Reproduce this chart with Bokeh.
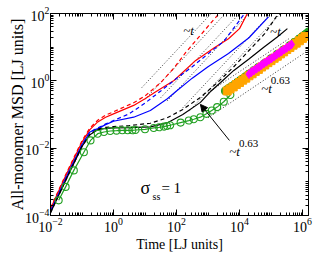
import numpy as np
from bokeh.plotting import figure
from bokeh.models import FixedTicker, LogAxis, Label, Arrow, NormalHead, Range1d
from bokeh.embed import file_html
from bokeh.resources import INLINE

# ---- data (log10 of time, log10 of MSD) ----
red_solid_lt = [-2, -1.5, -1, -0.75, -0.5, -0.25, 0, 0.64, 1.0, 1.33, 1.92, 2.6, 3.2, 3.65, 4.0, 4.25]
red_solid_ly = [-3.8, -2.78, -1.82, -1.45, -1.22, -1.08, -0.98, -0.73, -0.53, -0.33, 0.01, 0.6, 0.98, 1.25, 1.55, 2.0]

red_dash_lt = [-2, -1.5, -1, -0.75, -0.5, -0.25, 0, 0.64, 1.0, 1.5, 1.92, 2.3, 2.7, 3.24, 3.35]
red_dash_ly = [-3.78, -2.75, -1.78, -1.4, -1.17, -1.02, -0.92, -0.65, -0.45, -0.05, 0.38, 0.85, 1.29, 1.88, 2.0]

blue_solid_lt = [-2, -1.5, -1, -0.75, -0.5, -0.25, 0, 0.64, 1.17, 1.71, 2.0, 2.5, 3.0, 3.65, 4.3, 4.92]
blue_solid_ly = [-3.88, -2.86, -1.9, -1.52, -1.42, -1.3, -1.2, -1.08, -0.88, -0.53, -0.3, 0.08, 0.42, 0.81, 1.28, 1.9]

blue_dash_lt = [-2, -1.5, -1, -0.75, -0.5, -0.25, 0, 0.5, 1.0, 1.5, 2.0, 2.5, 3.0, 3.5, 4.14]
blue_dash_ly = [-3.88, -2.86, -1.9, -1.52, -1.4, -1.28, -1.18, -0.98, -0.66, -0.3, 0.07, 0.42, 0.8, 1.17, 1.97]

black_solid_lt = [-2, -1.5, -1, -0.75, -0.5, -0.25, 0, 0.5, 1.17, 1.7, 2.2, 2.76, 3.1, 3.4, 3.82, 4.3, 4.77, 5.2, 5.52]
black_solid_ly = [-3.92, -2.92, -1.95, -1.6, -1.45, -1.41, -1.4, -1.39, -1.37, -1.25, -1.0, -0.64, -0.3, -0.05, 0.31, 0.65, 1.0, 1.3, 1.55]

black_dash_lt = [-2, -1.5, -1, -0.75, -0.5, -0.25, 0, 0.5, 1.17, 1.7, 2.2, 2.76, 3.3, 3.8, 4.3, 4.8, 5.2]
black_dash_ly = [-3.92, -2.92, -1.95, -1.6, -1.43, -1.38, -1.36, -1.33, -1.26, -1.1, -0.85, -0.49, -0.05, 0.4, 0.9, 1.4, 1.95]

green_open_lt = [-1.74, -1.52, -1.26, -0.94, -0.73, -0.5, -0.3, -0.1, 0.1, 0.28, 0.45, 0.6, 0.7, 1.0,
                 1.28, 1.45, 1.6, 1.7, 1.8, 2.13, 2.39, 2.55, 2.76, 2.95, 3.12, 3.29, 3.5, 3.71]
green_open_ly = [-3.55, -3.15, -2.66, -2.12, -1.77, -1.57, -1.52, -1.49, -1.48, -1.47, -1.47, -1.47, -1.46, -1.44,
                 -1.4, -1.38, -1.36, -1.34, -1.32, -1.24, -1.18, -1.14, -1.08, -0.98, -0.88, -0.78, -0.62, -0.42]

green_fill_lt = [3.55, 3.62, 3.7, 3.78, 3.86, 3.94, 4.02, 4.1, 4.2, 4.3, 4.45, 4.6, 4.8, 5.0, 5.2, 5.4,
                 5.6, 5.75, 5.9, 6.0, 6.08, 6.14, 6.2]
green_fill_ly = [-0.3, -0.25, -0.2, -0.15, -0.1, -0.04, 0.01, 0.06, 0.13, 0.2, 0.3, 0.4, 0.52, 0.66, 0.79, 0.92,
                 1.05, 1.15, 1.25, 1.32, 1.37, 1.41, 1.46]

orange_lt = [3.61, 3.7, 3.8, 3.9, 4.0, 4.1, 4.2, 4.3, 4.4, 4.5, 4.6, 4.7, 4.8, 4.9, 5.0, 5.1, 5.2, 5.3,
             5.4, 5.5, 5.6, 5.7, 5.8, 5.9, 6.0, 6.08]
orange_ly = [-0.3, -0.24, -0.18, -0.11, -0.05, 0.02, 0.08, 0.15, 0.21, 0.28, 0.34, 0.41, 0.47, 0.54, 0.6, 0.67, 0.73, 0.8,
             0.86, 0.93, 0.99, 1.06, 1.12, 1.19, 1.26, 1.32]

magenta_lt = [4.3, 4.38, 4.46, 4.54, 4.62, 4.7, 4.78, 4.86, 4.94, 5.02, 5.1, 5.18, 5.26, 5.34, 5.42, 5.5, 5.58, 5.65]
magenta_ly = [0.2, 0.26, 0.31, 0.36, 0.41, 0.47, 0.52, 0.57, 0.62, 0.67, 0.72, 0.78, 0.83, 0.88, 0.93, 0.98, 1.03, 1.08]

# dotted guide lines: (log t start, log t end, log MSD start, log MSD end)
guide_lt0 = [0.9, 1.0, 1.5, 1.7, 2.2, 2.4, 3.0, 3.0]
guide_lt1 = [3.1, 3.55, 4.0, 4.3, 5.0, 5.3, 5.6, 6.19]
guide_ly0 = [-0.2, -0.55, -0.5, -0.6, -0.8, -0.9, -0.35, -1.1]
guide_ly1 = [2.0, 2.0, 2.0, 2.0, 2.0, 2.0, 1.27, 0.91]

x_major = [1e-2, 1e0, 1e2, 1e4, 1e6]
y_major = [1e-4, 1e-2, 1e0, 1e2]


def P(a):
    return [10.0 ** v for v in a]


def minor(k0, k1, majors):
    out = []
    for k in range(k0, k1 + 1):
        for m in range(1, 10):
            v = m * 10.0 ** k
            if m == 1 and v in majors:
                continue
            out.append(v)
    return out


FONT = "Liberation Serif"

p = figure(width=324, height=261, x_axis_type="log", y_axis_type="log",
           x_range=Range1d(1e-2, 10 ** 6.19), y_range=Range1d(1e-4, 1e2),
           output_backend="svg", toolbar_location=None,
           min_border_left=50, min_border_right=16, min_border_top=13, min_border_bottom=46)
p.background_fill_color = "white"
p.border_fill_color = "white"
p.outline_line_color = "black"
p.xgrid.visible = False
p.ygrid.visible = False

xt = FixedTicker(ticks=x_major, minor_ticks=minor(-2, 6, x_major))
yt = FixedTicker(ticks=y_major, minor_ticks=minor(-4, 1, y_major))


def style(ax, labels=True, label_size="14px"):
    ax.major_tick_in = 6
    ax.major_tick_out = 0
    ax.minor_tick_in = 3
    ax.minor_tick_out = 0
    ax.axis_line_color = "black"
    ax.major_tick_line_color = "black"
    ax.minor_tick_line_color = "black"
    ax.major_label_text_font = FONT
    ax.major_label_text_font_size = "14px" if labels else "1px"
    ax.major_label_text_color = "black"
    if not labels:
        ax.major_label_text_alpha = 0
        ax.major_label_standoff = 0
    else:
        ax.major_label_standoff = 2
    ax.axis_label_text_font = FONT
    ax.axis_label_text_font_style = "normal"
    ax.axis_label_text_font_size = label_size
    ax.axis_label_text_color = "black"
    ax.axis_label_standoff = 2


p.xaxis.ticker = xt
p.yaxis.ticker = yt
style(p.xaxis[0], label_size="14px")
style(p.yaxis[0], label_size="16px")
p.yaxis.axis_label_standoff = -4
p.yaxis.major_label_standoff = 1
p.xaxis.axis_label = "Time [LJ units]"
p.yaxis.axis_label = "All-monomer MSD [LJ units]"

top = LogAxis(ticker=xt)
style(top, labels=False)
p.add_layout(top, "above")
right = LogAxis(ticker=yt)
style(right, labels=False)
p.add_layout(right, "right")

# guides
for a, b, c, d in zip(guide_lt0, guide_lt1, guide_ly0, guide_ly1):
    p.line(P([a, b]), P([c, d]), line_color="#333333", line_dash="1 2", line_width=1)

p.line(P(red_dash_lt), P(red_dash_ly), line_color="red", line_dash="4 3", line_width=1.2)
p.line(P(red_solid_lt), P(red_solid_ly), line_color="red", line_width=1.2)
p.line(P(blue_dash_lt), P(blue_dash_ly), line_color="blue", line_dash="4 3", line_width=1.2)
p.line(P(blue_solid_lt), P(blue_solid_ly), line_color="blue", line_width=1.2)
p.line(P(black_dash_lt), P(black_dash_ly), line_color="black", line_dash="4 3", line_width=1.2)
p.line(P(black_solid_lt), P(black_solid_ly), line_color="black", line_width=1.2)

G = "#22a022"
p.line(P(green_open_lt), P(green_open_ly), line_color=G, line_width=1.2)
p.scatter(P(green_open_lt), P(green_open_ly), marker="circle", size=7, line_color=G,
          fill_color=None, line_width=1.1)

p.scatter(P(green_fill_lt), P(green_fill_ly), marker="circle", size=8, line_color=G, fill_color=G)
p.scatter(P(orange_lt), P(orange_ly), marker="square", size=8, line_color="orange", fill_color="orange")
p.scatter(P(magenta_lt), P(magenta_ly), marker="diamond", size=9, line_color="magenta", fill_color="magenta")

# annotations
def lab(lt, ly, text, size, style="normal", align="left", baseline="alphabetic"):
    p.add_layout(Label(x=10 ** lt, y=10 ** ly, text=text, text_font=FONT, text_font_size=size,
                       text_font_style=style, text_align=align, text_baseline=baseline,
                       text_color="black"))

lab(2.38, 1.5, "~t", "13px", "italic", "center", "middle")
lab(5.14, 1.47, "~t", "13px", "italic", "center", "middle")
lab(4.86, -0.23, "~t", "13px", "italic", "center", "middle")
lab(5.3, 0.01, "0.63", "11px", "normal", "center", "middle")
lab(3.84, -2.10, "~t", "13px", "italic", "center", "middle")
lab(4.29, -1.86, "0.63", "11px", "normal", "center", "middle")

lab(0.857, -3.19, "σ", "18px")
lab(1.24, -3.43, "ss", "10px")
lab(1.52, -3.19, "= 1", "15px")

p.add_layout(Arrow(end=NormalHead(size=7, fill_color="black", line_color="black", line_width=1),
                   x_start=10 ** 3.68, y_start=10 ** -1.77, x_end=10 ** 2.76, y_end=10 ** -0.70,
                   line_color="black", line_width=1))

open("out.html", "w").write(file_html(p, INLINE))
